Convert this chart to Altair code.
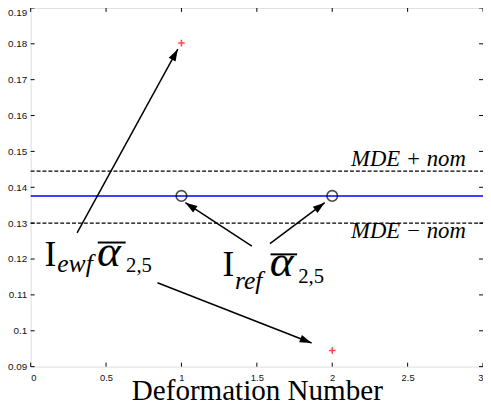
import math
import altair as alt
import pandas as pd

# ---------------- data ----------------
x_points = [1, 2]
ewf_values = [0.1802, 0.0945]          # red "+" markers
ref_values = [0.1376, 0.1376]          # open circles
nom_value = 0.1376                     # blue solid line
mde_bounds = [0.1445, 0.1300]          # dashed lines (MDE + nom, MDE - nom)

x_ticks = [0, 0.5, 1, 1.5, 2, 2.5, 3]
y_ticks = [0.09, 0.10, 0.11, 0.12, 0.13, 0.14, 0.15, 0.16, 0.17, 0.18, 0.19]

# arrows (tail -> tip), data coordinates
arrow_x = [0.308, 0.841, 1.467, 1.587]
arrow_y = [0.1273, 0.1134, 0.1236, 0.1243]
arrow_x2 = [0.976, 1.863, 1.026, 1.950]
arrow_y2 = [0.1785, 0.0966, 0.1357, 0.1357]

# label pieces
big_I_text = ["I", "I"]
big_I_x = [0.091, 1.272]
big_I_y = [0.1180, 0.1153]
sub_text = ["ewf", "ref"]
sub_x = [0.176, 1.355]
sub_y = [0.1164, 0.1117]
alpha_text = ["\u03b1", "\u03b1"]
alpha_x = [0.440, 1.585]
alpha_y = [0.1180, 0.1153]
bar_x = [0.445, 1.591]
bar_x2 = [0.630, 1.767]
bar_y = [0.1246, 0.1213]
idx_text = ["2,5", "2,5"]
idx_x = [0.633, 1.774]
idx_y = [0.1164, 0.1134]
mde_text = ["MDE + nom", "MDE \u2212 nom"]
mde_x = [2.125, 2.125]
mde_y = [0.1460, 0.1260]

# ---------------- layout ----------------
W, H = 459, 364
XMIN, XMAX = 0, 3
YMIN, YMAX = 0.09, 0.19
SERIF = "Liberation Serif"

xs = alt.Scale(domain=[XMIN, XMAX], nice=False, zero=False)
ys = alt.Scale(domain=[YMIN, YMAX], nice=False, zero=False)

base_axis_x = alt.Axis(values=x_ticks, format="~g", tickSize=0, labelPadding=6,
                       labelFont="Liberation Sans", labelFontSize=9.5, labelColor="#111",
                       labelOverlap=False,
                       domain=False, grid=False, title="Deformation Number",
                       titleFont=SERIF, titleFontSize=29.5, titleFontWeight="normal",
                       titleColor="black", titleBaseline="alphabetic", titleY=33)
base_axis_y = alt.Axis(values=y_ticks, format=".2~f", tickSize=0, labelPadding=4,
                       labelFont="Liberation Sans", labelFontSize=10, labelColor="#111",
                       labelOverlap=False,
                       labelBaseline={"condition": {"test": "datum.value >= 0.189",
                                                    "value": "top"},
                                      "value": "middle"},
                       domain=False, grid=False, title=None)


def X(f):
    return alt.X(f, type="quantitative", scale=xs, axis=base_axis_x,
                 title="Deformation Number")


def Y(f):
    return alt.Y(f, type="quantitative", scale=ys, axis=base_axis_y, title=None)


pts = pd.DataFrame({"x": x_points, "ewf": ewf_values, "ref": ref_values})

hl = pd.DataFrame({"y": [nom_value]})
nom_line = alt.Chart(hl).mark_rule(color="#0000ff", strokeWidth=1.5).encode(
    y=Y("y"), x=alt.value(0), x2=alt.value(W))

dl = pd.DataFrame({"y": mde_bounds})
mde_lines = alt.Chart(dl).mark_rule(color="black", strokeWidth=1.2, strokeDash=[4, 2]).encode(
    y=Y("y"), x=alt.value(0), x2=alt.value(W))

circles = alt.Chart(pts).mark_point(shape="circle", filled=False, color="black",
                                    strokeWidth=1.6, size=115).encode(x=X("x"), y=Y("ref"))

plus = alt.Chart(pts).mark_point(shape="M-1,0L1,0M0,-1L0,1", filled=False, color="red",
                                 strokeWidth=1.6, size=45).encode(x=X("x"), y=Y("ewf"))

# arrows
arr = pd.DataFrame({"x": arrow_x, "y": arrow_y, "x2": arrow_x2, "y2": arrow_y2})
pxx = W / (XMAX - XMIN)
pxy = H / (YMAX - YMIN)
arr["ang"] = [
    math.degrees(math.atan2((b - a) * pxx, (d - c) * pxy)) % 360
    for a, b, c, d in zip(arr["x"], arr["x2"], arr["y"], arr["y2"])
]
shafts = alt.Chart(arr).mark_rule(color="black", strokeWidth=1.5).encode(
    x=X("x"), y=Y("y"), x2="x2", y2="y2")
heads = alt.Chart(arr).mark_point(shape="M0,0L-0.33,1L0.33,1Z", filled=True, color="black",
                                  opacity=1, size=580).encode(
    x=X("x2"), y=Y("y2"), angle=alt.Angle("ang:Q", scale=None))


# labels
def text_layer(xv, yv, tv, size, style="normal"):
    df = pd.DataFrame({"x": xv, "y": yv, "t": tv})
    return alt.Chart(df).mark_text(align="left", baseline="alphabetic", font=SERIF,
                                   fontSize=size, fontStyle=style, color="black").encode(
        x=X("x"), y=Y("y"), text="t:N")


t_I = text_layer(big_I_x, big_I_y, big_I_text, 36)
t_sub = text_layer(sub_x, sub_y, sub_text, 26, "italic")
t_alpha = text_layer(alpha_x, alpha_y, alpha_text, 46, "italic")
t_idx = text_layer(idx_x, idx_y, idx_text, 21)
t_mde = text_layer(mde_x, mde_y, mde_text, 23, "italic")

bars = alt.Chart(pd.DataFrame({"x": bar_x, "x2": bar_x2, "y": bar_y})).mark_rule(
    color="black", strokeWidth=2).encode(x=X("x"), x2="x2", y=Y("y"))

# inward ticks (MATLAB style)
ytk = pd.DataFrame({"y": y_ticks})
xtk = pd.DataFrame({"x": x_ticks})
tk_l = alt.Chart(ytk).mark_rule(color="black", strokeWidth=1).encode(
    y=Y("y"), x=alt.value(0), x2=alt.value(4))
tk_r = alt.Chart(ytk).mark_rule(color="black", strokeWidth=1).encode(
    y=Y("y"), x=alt.value(W - 4), x2=alt.value(W))
tk_b = alt.Chart(xtk).mark_rule(color="black", strokeWidth=1).encode(
    x=X("x"), y=alt.value(H - 4), y2=alt.value(H))
tk_t = alt.Chart(xtk).mark_rule(color="black", strokeWidth=1).encode(
    x=X("x"), y=alt.value(0), y2=alt.value(4))

chart = alt.layer(
    mde_lines, nom_line, tk_l, tk_r, tk_b, tk_t,
    shafts, heads, circles, plus,
    t_I, t_sub, t_alpha, t_idx, t_mde, bars,
).properties(
    width=W, height=H,
    autosize=alt.AutoSizeParams(type="none"),
    padding={"left": 23, "top": -3, "right": 0, "bottom": 36},
).configure_view(stroke="black", strokeWidth=2).configure(background="white")

chart.save("out.html", embed_options={"renderer": "svg", "actions": False})
